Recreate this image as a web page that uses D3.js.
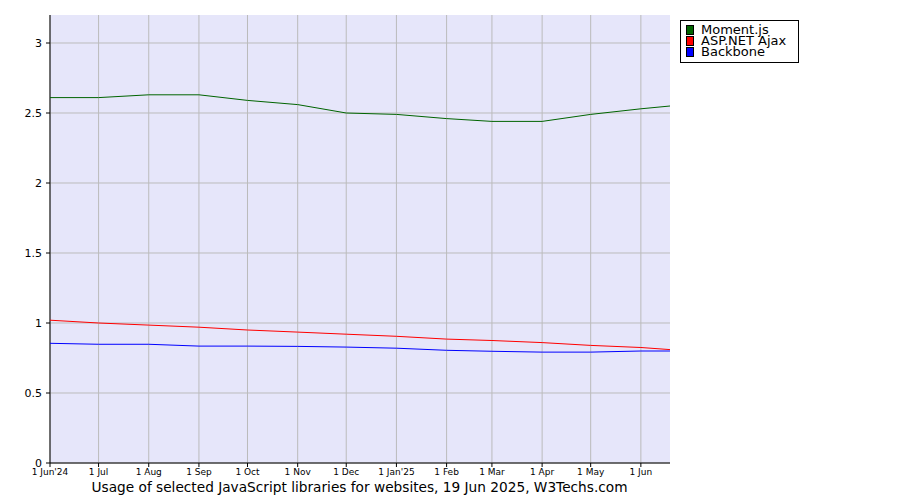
<!DOCTYPE html>
<html><head><meta charset="utf-8">
<script src="https://cdn.jsdelivr.net/npm/d3@7"></script>
<style>body{margin:0;background:#fff}text{font-family:"DejaVu Sans",sans-serif}</style>
</head><body><svg id="c" width="900" height="500"></svg>
<script>
const dates = ["2024-06-01","2024-07-01","2024-08-01","2024-09-01","2024-10-01","2024-11-01","2024-12-01","2025-01-01","2025-02-01","2025-03-01","2025-04-01","2025-05-01","2025-06-01","2025-06-19"];
const tickLabels = ["1 Jun'24","1 Jul","1 Aug","1 Sep","1 Oct","1 Nov","1 Dec","1 Jan'25","1 Feb","1 Mar","1 Apr","1 May","1 Jun"];
const momentJs = [2.61,2.61,2.63,2.63,2.59,2.56,2.50,2.49,2.46,2.44,2.44,2.49,2.53,2.55];
const aspNetAjax = [1.02,1.00,0.985,0.97,0.95,0.935,0.92,0.905,0.885,0.875,0.86,0.84,0.825,0.81];
const backbone = [0.855,0.848,0.848,0.835,0.835,0.833,0.828,0.82,0.805,0.798,0.792,0.792,0.8,0.8];
const yTicks = [0,0.5,1,1.5,2,2.5,3];
const series = [{name:"Moment.js",color:"#006400",fill:"#006400",v:momentJs},{name:"ASP.NET Ajax",color:"#ff0000",fill:"#ff0000",v:aspNetAjax},{name:"Backbone",color:"#0000ff",fill:"#0000ff",v:backbone}];
const parse = d3.timeParse("%Y-%m-%d");
const D = dates.map(parse);
const svg = d3.select("#c");
const L=50,R=670,T=15,B=463;
const x = d3.scaleTime().domain([D[0],D[D.length-1]]).range([L,R]);
const y = d3.scaleLinear().domain([0,3.2]).range([B,T]);
svg.append("rect").attr("x",L).attr("y",T).attr("width",R-L).attr("height",B-T).attr("fill","#e6e6fa");
const tickDates = D.slice(0,13);
svg.selectAll(".vg").data(tickDates).enter().append("line").attr("x1",d=>x(d)).attr("x2",d=>x(d)).attr("y1",T).attr("y2",B).attr("stroke","#bbb");
svg.selectAll(".hg").data(yTicks).enter().append("line").attr("x1",L).attr("x2",R).attr("y1",d=>y(d)).attr("y2",d=>y(d)).attr("stroke","#bbb");
svg.append("line").attr("x1",L).attr("x2",L).attr("y1",T).attr("y2",B).attr("stroke","#000");
svg.append("line").attr("x1",L).attr("x2",R).attr("y1",B).attr("y2",B).attr("stroke","#000");
svg.selectAll(".yl").data(yTicks).enter().append("text").attr("x",L-8).attr("y",d=>y(d)+4).attr("text-anchor","end").attr("font-size",11).text(d=>d);
svg.selectAll(".ytk").data(yTicks).enter().append("line").attr("x1",L-4).attr("x2",L).attr("y1",d=>y(d)).attr("y2",d=>y(d)).attr("stroke","#000");
svg.selectAll(".xtk").data(tickDates).enter().append("line").attr("x1",d=>x(d)).attr("x2",d=>x(d)).attr("y1",B).attr("y2",B+4).attr("stroke","#000");
svg.selectAll(".xl").data(tickDates).enter().append("text").attr("x",d=>x(d)).attr("y",B+12).attr("text-anchor","middle").attr("font-size",9).text((d,i)=>tickLabels[i]);
const line = d3.line().x((d,i)=>x(D[i])).y(d=>y(d));
series.forEach(s=>svg.append("path").attr("d",line(s.v)).attr("fill","none").attr("stroke",s.color).attr("stroke-width",1));
svg.append("text").attr("x",359.5).attr("y",492).attr("text-anchor","middle").attr("font-size",13.7).text("Usage of selected JavaScript libraries for websites, 19 Jun 2025, W3Techs.com");
const lg = svg.append("g");
lg.append("rect").attr("x",680.5).attr("y",20.5).attr("width",118).attr("height",42).attr("fill","#fff").attr("stroke","#000");
series.forEach((s,i)=>{
  lg.append("rect").attr("x",686.5).attr("y",25.5+i*11).attr("width",7).attr("height",9).attr("fill",s.fill).attr("stroke","#000");
  lg.append("text").attr("x",701).attr("y",34+i*11).attr("font-size",13).text(s.name);
});
</script></body></html>
